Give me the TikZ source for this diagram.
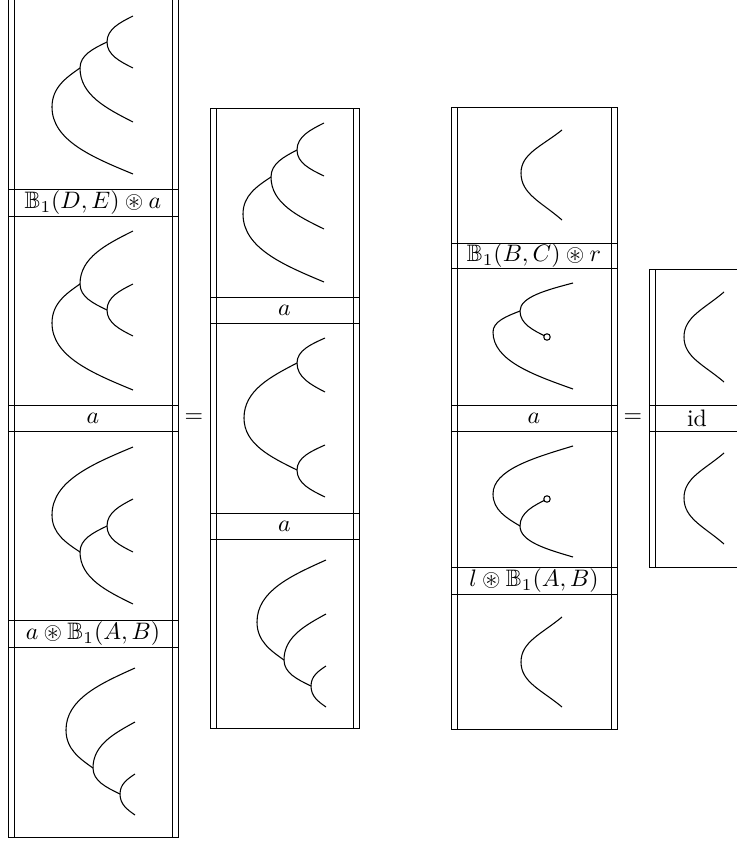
\documentclass[tikz,border=0pt]{standalone}
\usepackage{amssymb}
\newcommand\mkcol[4]{% xl, xr, top, bottom
  \draw[frame] (#1,#3) rectangle (#2,#4);
  \draw[frame] ({#1+6.5},#3) -- ({#1+6.5},#4);
  \draw[frame] ({#2-5.5},#3) -- ({#2-5.5},#4);}
\newcommand\mkband[4]{% xl, xr, y1, y2
  \draw[frame] (#1,#3) -- (#2,#3);
  \draw[frame] (#1,#4) -- (#2,#4);}
\newcommand\tedge[4]{% vertex x,y ; end x,y
  \draw[tree] (#1,#2) .. controls (#1,{#2+0.5*(#4-#2)}) and ({#3-0.5*(#3-#1)},{#4-0.25*(#4-#2)}) .. (#3,#4);}
\newcommand\sedge[4]{% vertex x,y ; end x,y (open fork arm)
  \draw[tree] (#1,#2) .. controls (#1,{#2+0.45*(#4-#2)}) and ({#3-0.5*(#3-#1)},{#4-0.38*(#4-#2)}) .. (#3,#4);}
\newcommand\sfork[5]{% vx, vy, ex, upper y, lower y
  \sedge{#1}{#2}{#3}{#4}\sedge{#1}{#2}{#3}{#5}}
\begin{document}
\begin{tikzpicture}[x=0.42pt,y=-0.42pt,
  frame/.style={line width=0.4pt,black},
  tree/.style={line width=0.45pt,black},
  lab/.style={inner sep=0pt,anchor=center},
  dot/.style={draw,fill=white,line width=0.45pt,circle,minimum size=2.7pt,inner sep=0pt}]
\useasboundingbox (0,0) rectangle (737,841);
\clip (0,0) rectangle (737,841);

% ---------------- column 1 ----------------
\mkcol{8}{178}{-1}{837}
\mkband{8}{178}{189}{216}
\mkband{8}{178}{405}{431}
\mkband{8}{178}{620}{647}
\node[lab] (c1l1) at (93,202.5) {$\mathbb{B}_1(D,E)\circledast a$};
\node[lab] (c1l2) at (93,418) {$a$};
\node[lab] (c1l3) at (93,633.5) {$a\circledast\mathbb{B}_1(A,B)$};
% box A
\tedge{52}{107}{80}{68}\tedge{52}{107}{133}{174}
\tedge{80}{68}{107}{42}\tedge{80}{68}{133}{122}
\tedge{107}{42}{133}{16}\tedge{107}{42}{133}{68}
% box B
\tedge{52}{323}{80}{284}\tedge{52}{323}{133}{390}
\tedge{80}{284}{133}{231}\tedge{80}{284}{107}{310}
\tedge{107}{310}{133}{284}\tedge{107}{310}{133}{336}
% box C
\tedge{52}{515}{133}{447}\tedge{52}{515}{80}{552}
\tedge{80}{552}{107}{526}\tedge{80}{552}{133}{604}
\tedge{107}{526}{133}{499}\tedge{107}{526}{133}{552}
% box D
\tedge{66}{730}{135}{668}\tedge{66}{730}{93}{768}
\tedge{93}{768}{135}{722}\tedge{93}{768}{120}{794}
\tedge{120}{794}{135}{774}\tedge{120}{794}{135}{815}

\node[lab] (eq1) at (194,418) {$=$};

% ---------------- column 2 ----------------
\mkcol{210}{359}{108}{728}
\mkband{210}{359}{297}{323}
\mkband{210}{359}{513}{539}
\node[lab] (c2l1) at (284.5,310) {$a$};
\node[lab] (c2l2) at (284.5,526) {$a$};
% box 1
\tedge{243}{214}{271}{177}\tedge{243}{214}{324}{282}
\tedge{271}{177}{297}{150}\tedge{271}{177}{324}{229}
\tedge{297}{150}{324}{123}\tedge{297}{150}{324}{176}
% box 2
\tedge{244}{418}{297}{363}\tedge{244}{418}{297}{470}
\tedge{297}{363}{325}{338}\tedge{297}{363}{325}{392}
\tedge{297}{470}{325}{445}\tedge{297}{470}{325}{497}
% box 3
\tedge{257}{622}{326}{560}\tedge{257}{622}{284}{660}
\tedge{284}{660}{326}{614}\tedge{284}{660}{311}{686}
\tedge{311}{686}{326}{666}\tedge{311}{686}{326}{707}

% ---------------- column 3 ----------------
\mkcol{451}{617}{107}{729}
\mkband{451}{617}{243}{268}
\mkband{451}{617}{405}{431}
\mkband{451}{617}{567}{594}
\node[lab] (c3l1) at (534,255.5) {$\mathbb{B}_1(B,C)\circledast r$};
\node[lab] (c3l2) at (534,418) {$a$};
\node[lab] (c3l3) at (534,580.5) {$l\circledast\mathbb{B}_1(A,B)$};
\sfork{521}{173}{562}{130}{220}
% box 2
\tedge{493}{332}{520}{311}\tedge{493}{332}{573}{389}
\tedge{520}{311}{573}{283}\tedge{520}{311}{547}{337}
\node[dot] (u1) at (547,337) {};
% box 3
\tedge{493}{494}{573}{446}\tedge{493}{494}{520}{526}
\tedge{520}{526}{547}{499}\tedge{520}{526}{573}{557}
\node[dot] (u2) at (547,499) {};
% box 4
\sfork{521}{662}{562}{617}{707}

\node[lab] (eq2) at (633,418) {$=$};

% ---------------- column 4 ----------------
\mkcol{649}{745}{269}{567}
\mkband{649}{745}{405}{431}
\node[lab] (c4l1) at (697,418) {id};
\sfork{684}{337}{724}{292}{382}
\sfork{684}{498}{724}{453}{544}
\end{tikzpicture}
\end{document}
